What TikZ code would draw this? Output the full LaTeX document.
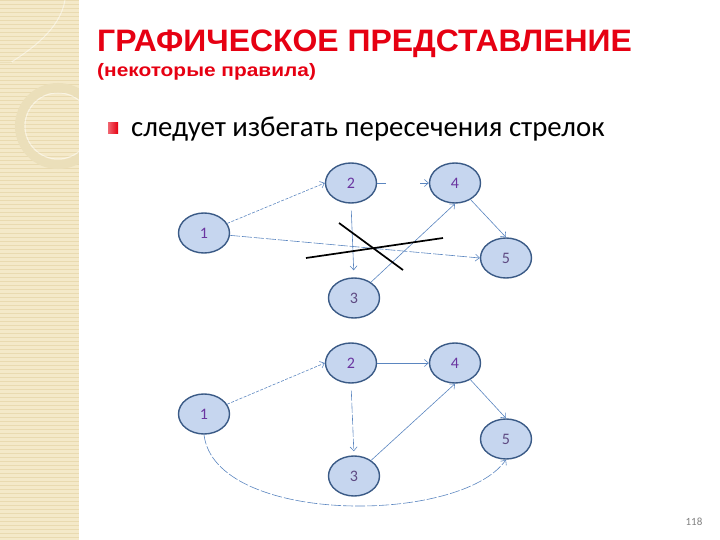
\documentclass[tikz,border=0pt]{standalone}
\usepackage{fontspec}
\setmainfont{Carlito}
\newfontfamily\titlefont{Liberation Sans}
\usetikzlibrary{shapes.geometric,arrows.meta}
\definecolor{bandbg}{HTML}{F4E9C9}
\definecolor{bandline}{HTML}{E9DAB0}
\definecolor{bandring}{HTML}{EBDFBA}
\definecolor{nodefill}{HTML}{C6D6EF}
\definecolor{nodedraw}{HTML}{3A5A86}
\definecolor{edgecol}{HTML}{5B86C0}
\definecolor{labcol}{HTML}{6A35A0}
\definecolor{labcolb}{HTML}{5E4A82}
\definecolor{titlered}{HTML}{E60012}
\begin{document}
\begin{tikzpicture}[x=1pt,y=-1pt,
  gnode/.style={ellipse,draw=nodedraw,fill=nodefill,line width=1.4pt,minimum width=51pt,minimum height=40pt,inner sep=0pt,font=\fontsize{16}{16}\selectfont,text=labcol},
  gnodeb/.style={gnode,text=labcolb},
  edge/.style={draw=edgecol,line width=0.6pt,-{Straight Barb[length=4pt,width=7pt]}},
  fdash/.style={dash pattern=on 3pt off 1.5pt},
  ldash/.style={dash pattern=on 10pt off 2pt},
  cross/.style={draw=black,line width=1.7pt}
]
\useasboundingbox (0,0) rectangle (720,540);
% left band
\fill[bandbg] (0,0) rectangle (79,540);
\foreach \yy in {1,5,...,540} {\draw[bandline,line width=1pt] (0,\yy) -- (79,\yy);}
\begin{scope}
\clip (0,0) rectangle (79,540);
\draw[bandring,line width=9pt] (58,126) circle (38.5);
\draw[white,opacity=0.5,line width=1pt] (58,126) circle (33);
\draw[white,opacity=0.5,line width=1pt] (65,0) .. controls (60,30) and (30,50) .. (10,63);
\draw[bandring,line width=1pt] (0,63) -- (12,63);
\end{scope}
\draw[white,line width=1pt] (79.5,0) -- (79.5,540);
% title
\node[anchor=base west,inner sep=0pt,text=titlered,font=\titlefont\bfseries\fontsize{31}{31}\selectfont] (title) at (97,52) {\scalebox{1.03}[1]{ГРАФИЧЕСКОЕ ПРЕДСТАВЛЕНИЕ}};
\node[anchor=base west,inner sep=0pt,text=titlered,font=\titlefont\bfseries\fontsize{18}{18}\selectfont] (subtitle) at (97,77) {\scalebox{1.16}[1]{(некоторые правила)}};
% bullet
\shade[left color=titlered!60!white,right color=titlered] (108,123) rectangle (118,134);
\node[anchor=base west,inner sep=0pt,font=\fontsize{28.8}{28.8}\selectfont] (bullet) at (131,137) {следует избегать пересечения стрелок};
% top graph
\node[gnode] (t1) at (204,233) {1};
\node[gnode] (t2) at (351,183) {2};
\node[gnode] (t4) at (455,183) {4};
\node[gnodeb] (t5) at (506,258) {5};
\node[gnodeb] (t3) at (354,298) {3};
\draw[edge,fdash] (t1) -- (t2.west);
\draw[edge,dash pattern=on 9pt off 34pt on 9pt] (t2) -- (t4);
\draw[edge,shorten <=7pt,shorten >=7pt] (t2.south) -- (t3.north);
\draw[edge,ldash] (t1) -- (t5.west);
\draw[edge] (t3) -- (t4.south);
\draw[edge] (t4) -- (t5.north);
\coordinate (c1a) at (339,223);
\coordinate (c1b) at (403,270);
\coordinate (c2a) at (306,258);
\coordinate (c2b) at (443,238);
\draw[cross] (c1a) -- (c1b);
\draw[cross] (c2a) -- (c2b);
% bottom graph
\node[gnode] (b1) at (204,414) {1};
\node[gnode] (b2) at (351,363) {2};
\node[gnode] (b4) at (455,363) {4};
\node[gnodeb] (b5) at (506,439) {5};
\node[gnodeb] (b3) at (354,476) {3};
\draw[edge,fdash] (b1) -- (b2.west);
\draw[edge] (b2) -- (b4);
\draw[edge,ldash,shorten <=7pt,shorten >=4pt] (b2.south) -- (b3.north);
\draw[edge] (b3) -- (b4.south);
\draw[edge] (b4) -- (b5.north);
\draw[edge,ldash] (b1.south) .. controls (215,525) and (460,525) .. (b5.south);
% page number
\node[text=gray,font=\fontsize{11}{11}\selectfont] (pg) at (694,522) {118};
\end{tikzpicture}
\end{document}
